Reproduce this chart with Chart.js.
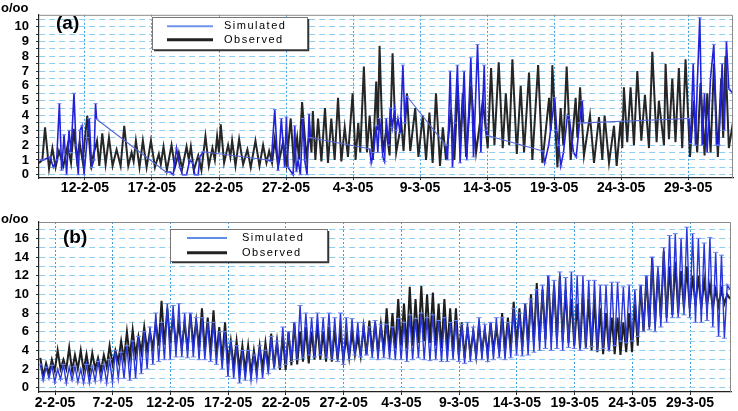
<!DOCTYPE html>
<html>
<head>
<meta charset="utf-8">
<script src="https://cdn.jsdelivr.net/npm/chart.js@4.4.1/dist/chart.umd.min.js"></script>
<style>
  html, body { margin: 0; padding: 0; background: #fff; }
  #wrap { position: relative; width: 738px; height: 411px; overflow: hidden; }
  canvas { position: absolute; left: 0; }
</style>
</head>
<body>
<div id="wrap">
  <canvas id="ca" width="738" height="205" style="top:0"></canvas>
  <canvas id="cb" width="738" height="206" style="top:205px"></canvas>
</div>
<script>
// x values are days counted from 1 Feb 2005 (day 32 = 4 Mar 2005)
const tickDaysA = [12, 17, 22, 27, 32, 37, 42, 47, 52, 57];
const tickLabelsA = ['12-2-05', '17-2-05', '22-2-05', '27-2-05', '4-3-05', '9-3-05', '14-3-05', '19-3-05', '24-3-05', '29-3-05'];
const tickDaysB = [2, 7, 12, 17, 22, 27, 32, 37, 42, 47, 52, 57];
const tickLabelsB = ['2-2-05', '7-2-05', '12-2-05', '17-2-05', '22-2-05', '27-2-05', '4-3-05', '9-3-05', '14-3-05', '19-3-05', '24-3-05', '29-3-05'];

// panel (a) : [day, salinity]
const simA = [[8.65,1.0],[8.9,1.0],[9.39,1.2],[9.64,0.5],[9.89,1.0],[10.09,4.8],[10.26,0.3],[10.44,2.7],[10.63,0.0],[10.81,3.0],[10.96,1.5],[11.18,5.5],[11.33,2.0],[11.5,0.0],[11.63,3.0],[11.78,3.3],[11.93,0.0],[12.17,2.5],[12.32,3.8],[12.5,0.5],[12.67,1.0],[12.79,4.8],[12.87,3.75],
  [18.09,0.15],[18.33,0.2],[18.58,0.0],[18.83,1.8],[19.08,0.5],[19.28,0.0],[19.58,0.0],[19.82,1.0],[20.02,0.8],[20.2,0.0],[20.45,0.0],[20.57,1.2],[20.82,1.55],
  [25.66,1.0],[25.9,0.9],[26.16,4.4],[26.41,0.3],[26.65,3.8],[26.9,0.5],[27.03,3.9],[27.15,0.5],[27.53,0.0],[27.65,3.3],[27.77,0.2],[27.9,1.0],[28.07,0.0],[28.27,3.8],[28.39,1.0],[28.57,0.0],[28.72,4.1],[28.82,2.5],
  [33.24,1.75],[33.36,0.8],[33.54,1.5],[33.73,3.3],[33.85,1.5],[33.98,3.8],[34.23,1.2],[34.35,0.9],[34.48,3.8],[34.65,2.0],[34.78,4.5],[34.93,3.2],[35.1,4.4],[35.22,3.0],[35.35,3.8],[35.52,2.8],[35.72,7.4],[35.87,3.5],[36.02,5.3],
  [38.92,2.0],[39.05,1.0],[39.25,7.0],[39.42,0.5],[39.6,3.5],[39.79,7.4],[39.99,0.8],[40.29,7.0],[40.49,1.0],[40.79,7.9],[40.99,1.2],[41.29,8.8],[41.54,1.5],[41.79,7.4],[41.91,3.0],[42.03,2.65],
  [46.15,1.6],[46.3,0.8],[46.6,2.0],[47.05,5.2],[47.2,3.0],[47.35,2.0],[47.5,0.6],[47.7,1.5],[48.0,4.0],[48.15,3.7],[48.45,1.5],[48.65,1.2],[48.9,3.5],[49.1,5.0],[49.2,3.5],
  [57.06,3.8],[57.18,2.1],[57.38,7.5],[57.55,2.0],[57.68,6.0],[57.87,10.6],[58.05,2.0],[58.22,5.5],[58.42,1.5],[58.67,6.5],[58.92,8.8],[59.11,2.0],[59.29,2.0],[59.54,7.5],[59.71,3.0],[59.86,9.0],[60.04,5.8],[60.34,5.5]];

const obsA = [[8.57,0.8],[8.82,1.0],[9.02,3.2],[9.32,0.4],[9.57,1.8],[9.81,0.5],[10.06,1.6],[10.39,0.6],[10.71,2.0],[10.96,0.8],[11.16,3.1],[11.4,1.0],[11.6,2.2],[11.83,0.9],[12.17,4.0],[12.45,0.7],[12.9,2.3],[13.07,0.6],[13.29,2.8],[13.54,0.7],[13.79,2.5],[14.06,0.6],[14.36,1.7],[14.66,0.6],[14.93,3.3],[15.23,0.6],[15.48,1.5],[15.63,0.9],[15.8,2.3],[16.07,0.5],[16.32,2.3],[16.6,0.5],[16.92,2.3],[17.22,0.5],[17.51,1.4],[17.66,0.7],[17.86,1.9],[18.11,0.3],[18.46,2.0],[18.71,0.5],[19.0,1.5],[19.25,0.4],[19.58,1.9],[19.75,1.0],[19.9,1.9],[20.12,0.3],[20.45,1.3],[20.69,0.3],[20.99,2.6],[21.24,0.6],[21.51,1.8],[21.69,1.0],[21.86,2.6],[22.0,1.5],[22.13,3.4],[22.38,0.8],[22.68,2.0],[22.85,1.2],[22.98,2.3],[23.23,0.6],[23.5,2.4],[23.8,0.7],[24.12,1.7],[24.37,0.5],[24.72,2.3],[25.02,0.6],[25.29,2.0],[25.54,0.8],[25.74,1.6],[25.96,0.8],
  [26.16,2.4],[26.41,0.6],[26.78,2.2],[27.03,0.7],[27.35,3.8],[27.58,0.8],[27.83,2.5],[27.97,1.0],[28.2,4.9],[28.52,1.2],[28.77,2.9],[28.9,1.5],[29.0,4.3],[29.19,1.0],[29.39,3.8],[29.64,0.9],[29.91,4.5],[30.13,0.8],[30.38,3.8],[30.63,1.0],[30.88,5.2],[31.13,0.9],[31.38,3.2],[31.62,1.2],[31.97,5.5],[32.19,1.0],[32.39,3.5],[32.54,1.5],[32.81,7.3],[33.04,1.5],[33.24,4.0],[33.48,1.0],[33.73,6.3],[33.85,3.0],[33.98,8.7],[34.23,1.5],[34.48,3.0],[34.73,1.3],[34.95,8.2],[35.22,1.5],[35.6,3.5],[35.77,1.6],[36.02,5.5],[36.27,1.6],[36.64,4.5],[36.88,1.2],[37.2,4.0],[37.45,1.0],[37.7,4.2],[37.94,0.8],[38.19,5.5],[38.49,0.6],[38.7,3.2],[38.94,1.0],[39.31,4.4],[39.56,1.0],[39.82,6.0],[39.99,2.0],[40.19,5.5],[40.44,1.2],[40.81,6.0],[41.18,1.5],[41.68,5.0],[42.05,1.8],[42.3,7.2],[42.55,2.0],[42.87,7.6],[43.17,1.8],
  [43.4,5.5],[43.65,2.0],[43.89,7.8],[44.22,1.4],[44.51,6.0],[44.76,1.5],[45.13,6.9],[45.38,1.0],[45.81,7.4],[46.13,0.8],[46.63,5.2],[46.75,3.0],[46.87,7.4],[47.25,0.5],[47.49,4.5],[47.69,2.0],[47.94,7.3],[48.24,1.0],[48.61,5.2],[48.74,2.5],[48.94,5.9],[49.23,1.3],[49.68,4.0],[49.98,0.8],[50.35,3.9],[50.6,1.0],[50.77,4.0],[51.1,0.8],[51.47,3.3],[51.67,0.6],[51.96,3.6],[52.09,1.8],[52.21,5.9],[52.46,2.2],[52.71,5.9],[52.96,2.0],[53.21,7.0],[53.51,2.3],[53.78,5.4],[54.08,1.8],[54.33,8.3],[54.65,2.2],[54.82,5.0],[55.2,2.0],[55.32,7.5],[55.57,2.4],[55.82,6.5],[56.06,2.2],[56.31,7.2],[56.56,1.8],[56.81,7.8],[57.14,1.2],[57.43,5.0],[57.68,1.5],[57.93,6.2],[58.23,1.3],[58.43,5.5],[58.68,1.5],[58.93,7.5],[59.22,1.2],[59.47,6.5],[59.62,2.5],[59.79,8.0],[60.04,1.8],[60.34,3.5]];

// panel (b) : two highs and two lows per day, first day starts at day 0.6
const startB = 0.6;
const simPeaksB = [2.5,2.2, 2.4,2.0, 2.5,2.2, 2.3,2.0, 2.5,2.2, 2.8,2.5, 3.0,4.0, 3.8,4.5, 5.0,5.5, 6.0,6.5,
  8.0,7.0, 9.0,8.8, 9.0,8.0, 8.0,7.5, 7.5,7.0, 7.0,6.0, 6.0,5.0, 4.5,4.0, 4.0,3.5, 4.5,4.0,
  5.5,5.0, 6.5,6.0, 7.0,8.8, 8.0,7.5, 8.0,7.5, 8.0,7.5, 8.0,7.5, 7.4,7.0, 7.0,6.5, 7.2,6.8,
  6.8,6.5, 7.4,7.0, 7.8,7.4, 8.0,7.5, 7.8,7.2, 7.5,7.0, 7.2,6.8, 7.0,6.5, 7.5,6.8, 7.0,7.5,
  7.5,7.0, 8.5,8.0, 9.0,9.5, 10.5,11.0, 12.0,11.5, 12.4,11.8, 12.4,12.0, 12.0,11.5, 11.5,11.0, 11.0,11.3,
  11.3,10.8, 11.0,10.5, 11.0,12.0, 14.0,13.0, 15.0,16.3, 16.5,16.0, 17.2,16.5, 16.0,15.5, 16.1,14.5, 14.2,11.0];
const simTroughsB = [0.8,1.0, 0.6,0.9, 0.5,0.8, 0.6,0.5, 0.5,0.7, 0.8,0.5, 0.6,1.0, 1.0,0.8, 1.0,1.5, 2.0,2.5,
  2.8,3.0, 3.0,3.3, 3.3,3.2, 3.3,3.0, 3.0,2.8, 2.5,2.0, 1.2,1.0, 0.5,0.8, 0.8,1.0, 1.0,1.5,
  2.0,2.2, 2.5,2.8, 3.0,3.2, 3.5,3.3, 3.5,3.2, 3.0,2.8, 2.5,3.0, 3.5,3.3, 3.5,3.2, 3.0,3.2,
  3.1,3.0, 3.0,2.8, 3.0,3.2, 3.0,2.9, 3.0,2.8, 2.8,3.0, 2.8,2.6, 2.8,3.0, 3.0,2.8, 3.0,3.2,
  3.0,3.2, 3.5,3.4, 3.5,3.8, 4.0,4.2, 4.0,4.2, 4.0,4.3, 4.2,4.0, 4.2,4.4, 4.0,4.2, 4.0,4.5,
  5.0,4.8, 5.0,5.5, 6.0,6.2, 6.0,6.5, 7.0,7.5, 7.5,7.8, 7.5,7.0, 7.0,7.2, 6.5,5.5, 5.3,10.5];
const obsPeaksB = [3.2,2.6, 3.0,4.0, 3.0,4.3, 3.5,4.0, 3.6,3.7, 3.2,3.5, 4.5,4.0, 5.0,6.0, 6.2,5.5, 6.5,6.0,
  7.0,9.3, 8.5,7.8, 6.8,7.0, 8.0,7.2, 8.5,7.5, 8.3,6.5, 7.0,5.0, 5.0,4.5, 4.5,4.0, 4.5,4.8,
  5.8,5.0, 5.5,6.0, 7.0,6.0, 6.5,6.0, 6.8,6.0, 6.5,6.2, 6.0,5.5, 6.0,5.5, 6.5,7.2, 7.0,6.8,
  8.5,8.0, 9.5,9.0, 10.8,9.5, 10.9,10.0, 10.2,9.0, 9.5,8.5, 8.5,7.0, 6.5,6.0, 6.8,6.2, 7.0,6.5,
  8.0,7.5, 9.2,8.5, 9.0,10.0, 11.2,10.5, 12.0,11.0, 12.0,10.5, 9.5,9.0, 10.0,9.5, 9.5,8.5, 8.0,7.5,
  7.5,7.0, 8.0,9.0, 11.0,12.0, 14.0,12.5, 14.6,13.0, 13.5,12.5, 13.0,12.0, 12.0,11.5, 11.0,10.5, 10.5,10.0];
const obsTroughsB = [1.2,1.5, 1.8,2.0, 2.0,1.8, 2.0,1.8, 1.6,2.0, 1.8,2.2, 2.5,2.8, 3.0,3.2, 3.5,3.8, 4.0,4.2,
  4.5,4.6, 4.8,4.5, 4.2,4.0, 4.5,4.3, 4.0,3.8, 3.5,3.0, 2.5,2.2, 2.0,1.8, 1.5,1.8, 2.0,2.2,
  2.2,1.9, 1.9,2.4, 2.5,2.8, 2.6,3.0, 3.0,2.8, 2.8,3.0, 3.0,3.2, 3.5,3.4, 3.5,3.8, 3.8,4.0,
  4.0,4.2, 4.5,4.2, 4.5,4.8, 5.0,4.8, 4.5,4.2, 4.0,3.8, 3.5,3.2, 3.6,3.4, 3.8,3.6, 4.0,3.8,
  4.0,4.2, 4.5,4.4, 4.8,5.0, 5.0,5.2, 5.5,5.2, 5.0,4.8, 4.5,4.2, 4.3,4.0, 3.8,3.6, 3.9,3.6,
  3.5,3.8, 3.8,4.5, 6.0,6.5, 7.0,7.5, 7.5,7.8, 8.0,8.5, 8.5,8.8, 8.5,8.8, 8.5,8.8, 9.0,9.5];

const FONT = '"Liberation Sans", Arial, sans-serif';

const toPoints = pairs => pairs.map(([x, y]) => ({ x, y }));
const interleave = (peaks, troughs) => {
  const pts = [];
  peaks.forEach((p, i) => {
    pts.push({ x: startB + i * 0.5 + 0.125, y: p });
    pts.push({ x: startB + i * 0.5 + 0.375, y: troughs[i] });
  });
  return pts;
};

// frame, panel tag, unit and boxed legend
const decor = {
  id: 'decor',
  afterDraw(chart, args, o) {
    const { ctx, chartArea: a } = chart;
    ctx.save();
    ctx.strokeStyle = '#8a8a8a';
    ctx.lineWidth = 1;
    ctx.beginPath();
    ctx.moveTo(a.left, a.top + 0.5);
    ctx.lineTo(a.right - 0.5, a.top + 0.5);
    ctx.lineTo(a.right - 0.5, a.bottom);
    ctx.stroke();

    ctx.fillStyle = '#000';
    ctx.textBaseline = 'middle';
    ctx.font = 'bold 19px ' + FONT;
    ctx.fillText(o.tag, o.tagX, o.tagY);
    ctx.font = 'bold 13px ' + FONT;
    ctx.fillText('o/oo', 1, o.unitY);

    const b = o.box;
    ctx.fillStyle = '#fff';
    ctx.fillRect(b.x, b.y, b.w, b.h);
    ctx.strokeStyle = '#777';
    ctx.strokeRect(b.x + 0.5, b.y + 0.5, b.w, b.h);
    ctx.strokeStyle = '#333';
    ctx.lineWidth = 1.5;
    ctx.beginPath();
    ctx.moveTo(b.x + 2, b.y + b.h + 1.5);
    ctx.lineTo(b.x + b.w + 1.5, b.y + b.h + 1.5);
    ctx.lineTo(b.x + b.w + 1.5, b.y + 2);
    ctx.stroke();

    chart.data.datasets.forEach((ds, i) => {
      const y = b.y + o.rowY[i];
      ctx.strokeStyle = o.sample[i];
      ctx.lineWidth = o.sampleW[i];
      ctx.beginPath();
      ctx.moveTo(o.lineX[0], y);
      ctx.lineTo(o.lineX[1], y);
      ctx.stroke();
      ctx.fillStyle = '#000';
      ctx.font = '11px ' + FONT;
      ctx.letterSpacing = '1.5px';
      ctx.fillText(ds.label, o.textX, y);
      ctx.letterSpacing = '0px';
    });
    ctx.restore();
  }
};

function makePanel(id, cfg) {
  return new Chart(document.getElementById(id), {
    type: 'scatter',
    data: { datasets: cfg.datasets },
    options: {
      responsive: false,
      animation: false,
      devicePixelRatio: 1,
      events: [],
      layout: { padding: cfg.padding },
      plugins: { legend: { display: false }, tooltip: { enabled: false }, decor: cfg.decor },
      scales: {
        x: {
          type: 'linear',
          min: cfg.xMin,
          max: cfg.xMax,
          afterBuildTicks: s => { s.ticks = cfg.tickDays.map(v => ({ value: v })); },
          afterFit: s => { s.height = cfg.xHeight; },
          ticks: {
            autoSkip: false, maxRotation: 0, padding: 0, color: '#000',
            font: { family: FONT, size: 14, weight: 'bold' },
            callback: v => cfg.tickLabels[cfg.tickDays.indexOf(v)]
          },
          grid: { color: '#3d9ddf', lineWidth: 1, tickLength: cfg.xTick, tickColor: '#222' },
          border: { color: '#222', width: 1.2, dash: [2, 2] }
        },
        y: {
          min: cfg.yMin,
          max: cfg.yMax,
          afterBuildTicks: s => {
            const t = [];
            for (let v = 0; v <= cfg.yTop; v += cfg.yStep) t.push({ value: v });
            s.ticks = t;
          },
          afterFit: s => { s.width = 39; },
          ticks: {
            autoSkip: false, padding: 7, color: '#000',
            font: { family: FONT, size: 13, weight: 'bold' },
            callback: v => (v % cfg.yLabelEvery === 0 ? String(v) : '')
          },
          grid: { color: '#8ccff0', lineWidth: 1, tickLength: 3, tickColor: '#333' },
          border: { color: '#222', width: 1.2, dash: [6, 4] }
        }
      }
    },
    plugins: [decor]
  });
}

const gapped = c => c.p1.parsed.x - c.p0.parsed.x > 1;

makePanel('ca', {
  padding: { left: 0, right: 4, top: 13, bottom: 0 },
  xMin: 8.57, xMax: 60.35, xHeight: 27, xTick: 2,
  tickDays: tickDaysA, tickLabels: tickLabelsA,
  yMin: -0.22, yMax: 10.8, yTop: 10.5, yStep: 0.5, yLabelEvery: 1,
  datasets: [
    {
      label: 'Simulated', data: toPoints(simA), showLine: true,
      borderColor: '#2222d8', borderWidth: 1.6,
      pointStyle: 'line', pointRadius: 2, pointBorderColor: '#6a80ee', pointBorderWidth: 1,
      segment: {
        borderColor: c => (gapped(c) ? '#5567d8' : undefined),
        borderWidth: c => (gapped(c) ? 1.1 : undefined)
      }
    },
    {
      label: 'Observed', data: toPoints(obsA), showLine: true,
      borderColor: '#262626', borderWidth: 2, pointRadius: 0
    }
  ],
  decor: {
    tag: '(a)', tagX: 56, tagY: 24, unitY: 8,
    box: { x: 152, y: 17, w: 155, h: 32 },
    rowY: [9.3, 22.7], lineX: [167, 213], textX: 224,
    sample: ['#6f93e8', '#222'], sampleW: [2, 3]
  }
});

makePanel('cb', {
  padding: { left: 0, right: 7, top: 17, bottom: 0 },
  xMin: 0.61, xMax: 60.55, xHeight: 19, xTick: 3,
  tickDays: tickDaysB, tickLabels: tickLabelsB,
  yMin: -0.46, yMax: 17.75, yTop: 17, yStep: 1, yLabelEvery: 2,
  datasets: [
    {
      label: 'Simulated', data: interleave(simPeaksB, simTroughsB), showLine: true,
      borderColor: '#2a36d6', borderWidth: 1.4,
      pointStyle: 'line', pointRadius: 2.5, pointBorderColor: '#6a86ec', pointBorderWidth: 1
    },
    {
      label: 'Observed', data: interleave(obsPeaksB, obsTroughsB), showLine: true,
      borderColor: '#1e1e1e', borderWidth: 2, pointRadius: 0
    }
  ],
  decor: {
    tag: '(b)', tagX: 63, tagY: 33, unitY: 14,
    box: { x: 170, y: 24, w: 157, h: 32 },
    rowY: [9, 23.7], lineX: [187, 227], textX: 242,
    sample: ['#5b8ee6', '#222'], sampleW: [2, 3]
  }
});
</script>
</body>
</html>
